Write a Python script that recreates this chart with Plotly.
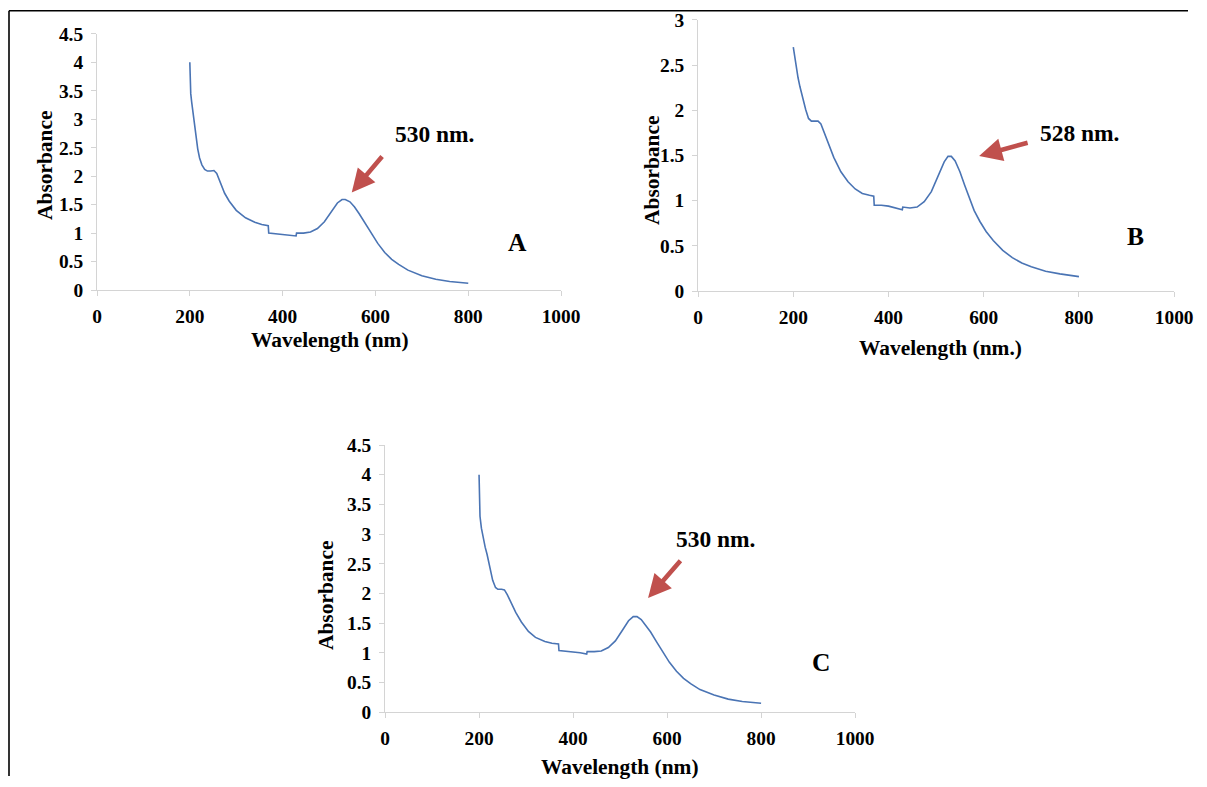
import plotly.graph_objects as go

# ---------------- data ----------------
wl_A = [200, 201, 202, 204, 207, 210, 213, 217, 221, 226, 232, 238, 245, 252, 258, 265, 275, 285,
        300, 320, 340, 355, 369, 370, 385, 400, 415, 429, 430, 445, 460, 475, 490, 505, 518, 528,
        535, 545, 555, 565, 578, 590, 605, 620, 635, 650, 670, 700, 730, 760, 800]
abs_A = [4.00, 3.60, 3.45, 3.30, 3.10, 2.85, 2.67, 2.48, 2.32, 2.20, 2.12, 2.09, 2.09, 2.10, 2.05, 1.90, 1.70, 1.56,
         1.40, 1.27, 1.19, 1.15, 1.13, 1.00, 0.99, 0.98, 0.96, 0.95, 1.00, 1.00, 1.02, 1.08, 1.20, 1.38, 1.53, 1.59,
         1.59, 1.55, 1.46, 1.34, 1.17, 1.00, 0.82, 0.66, 0.54, 0.45, 0.35, 0.25, 0.19, 0.15, 0.12]

wl_B = [200, 203, 206, 210, 214, 220, 226, 232, 238, 245, 252, 258, 265, 275, 285, 300, 315, 330,
        345, 360, 369, 370, 385, 400, 415, 429, 430, 445, 460, 475, 490, 505, 517, 525, 532, 540,
        550, 560, 570, 580, 592, 605, 620, 640, 660, 680, 700, 730, 760, 800]
abs_B = [2.70, 2.58, 2.48, 2.36, 2.26, 2.13, 2.01, 1.91, 1.88, 1.88, 1.88, 1.85, 1.75, 1.62, 1.48, 1.32, 1.21, 1.13,
         1.08, 1.06, 1.05, 0.95, 0.95, 0.94, 0.92, 0.90, 0.93, 0.92, 0.93, 0.99, 1.10, 1.28, 1.43, 1.49, 1.49, 1.44,
         1.32, 1.17, 1.02, 0.89, 0.77, 0.66, 0.56, 0.45, 0.37, 0.31, 0.27, 0.22, 0.19, 0.16]

wl_C = [200, 201, 202, 205, 209, 213, 217, 223, 229, 235, 240, 248, 254, 260, 268, 278, 290, 305,
        320, 340, 355, 369, 370, 385, 400, 415, 429, 430, 445, 460, 475, 490, 505, 518, 528, 536,
        545, 555, 565, 578, 590, 605, 620, 635, 650, 670, 700, 730, 760, 800]
abs_C = [4.00, 3.60, 3.30, 3.10, 2.90, 2.78, 2.66, 2.42, 2.22, 2.10, 2.07, 2.07, 2.06, 1.98, 1.85, 1.68, 1.52, 1.36,
         1.26, 1.19, 1.16, 1.15, 1.04, 1.03, 1.02, 1.00, 0.98, 1.02, 1.02, 1.03, 1.09, 1.20, 1.38, 1.54, 1.61, 1.61,
         1.56, 1.46, 1.35, 1.18, 1.02, 0.84, 0.69, 0.57, 0.48, 0.38, 0.29, 0.22, 0.18, 0.15]

x_ticks = [0, 200, 400, 600, 800, 1000]
y_ticks_AC = [0, 0.5, 1, 1.5, 2, 2.5, 3, 3.5, 4, 4.5]
y_ticks_B = [0, 0.5, 1, 1.5, 2, 2.5, 3]

peak_labels = ["530 nm.", "528 nm.", "530 nm."]
panel_letters = ["A", "B", "C"]
x_titles = ["Wavelength (nm)", "Wavelength (nm.)", "Wavelength (nm)"]
y_title = "Absorbance"

# ---------------- layout helpers ----------------
# positions are given in target-picture pixels; the captured page appears scaled by ~0.98
# with a small offset, so they are mapped back to figure pixels here.
W, H = 1207, 787
S, OX, OY = 0.98, 5.0, 8.0
def fx(x):
    return (x - OX) / S
def fy(y):
    return (y - OY) / S
def px(x):
    return fx(x) / W
def py(y):
    return 1 - fy(y) / H
def fs(v):
    return v / S

FONT = "Liberation Serif"
LINE = "#4a74b4"
ARROW = "#c0504d"
AXC = "#d4d4d4"

fig = go.Figure()
fig.add_trace(go.Scatter(x=wl_A, y=abs_A, mode="lines", line=dict(color=LINE, width=1.6),
                         xaxis="x", yaxis="y", showlegend=False))
fig.add_trace(go.Scatter(x=wl_B, y=abs_B, mode="lines", line=dict(color=LINE, width=1.6),
                         xaxis="x2", yaxis="y2", showlegend=False))
fig.add_trace(go.Scatter(x=wl_C, y=abs_C, mode="lines", line=dict(color=LINE, width=1.6),
                         xaxis="x3", yaxis="y3", showlegend=False))

tickfont = dict(family=FONT, size=fs(19), color="black", weight="bold")
def xax(dom, anchor):
    return dict(domain=dom, anchor=anchor, range=[0, 1000], tickvals=x_ticks, showgrid=False,
                zeroline=False, showline=True, linecolor=AXC, linewidth=1, ticks="outside",
                ticklen=5, tickcolor=AXC, tickfont=tickfont, ticklabelstandoff=4, fixedrange=True)
def yax(dom, anchor, rng, tv):
    return dict(domain=dom, anchor=anchor, range=rng, tickvals=tv, showgrid=False,
                zeroline=False, showline=True, linecolor=AXC, linewidth=1, ticks="outside",
                ticklen=5, tickcolor=AXC, tickfont=tickfont, ticklabelstandoff=4, fixedrange=True)

fig.update_layout(
    width=W, height=H, margin=dict(l=0, r=0, t=0, b=0),
    paper_bgcolor="white", plot_bgcolor="white",
    xaxis=xax([px(97), px(561)], "y"),
    yaxis=yax([py(290), py(32)], "x", [0, 4.5], y_ticks_AC),
    xaxis2=xax([px(698), px(1174)], "y2"),
    yaxis2=yax([py(291), py(18)], "x2", [0, 3], y_ticks_B),
    xaxis3=xax([px(385), px(855)], "y3"),
    yaxis3=yax([py(715), py(446)], "x3", [0, 4.5], y_ticks_AC),
)

ann = []
for (cx, cy), t in zip([(330, 340), (940, 348), (620, 770)], x_titles):
    ann.append(dict(x=px(cx), y=py(cy), xref="paper", yref="paper", text=t, showarrow=False,
                    font=dict(family=FONT, size=fs(21), color="black", weight="bold"),
                    xanchor="center", yanchor="middle"))
for (cx, cy) in [(45, 165), (652, 170), (326, 598)]:
    ann.append(dict(x=px(cx), y=py(cy), xref="paper", yref="paper", text=y_title, showarrow=False,
                    textangle=-90, font=dict(family=FONT, size=fs(21), color="black", weight="bold"),
                    xanchor="center", yanchor="middle"))
for (cx, cy), t in zip([(435, 133), (1080, 132), (716, 541)], peak_labels):
    ann.append(dict(x=px(cx), y=py(cy), xref="paper", yref="paper", text=t, showarrow=False,
                    font=dict(family=FONT, size=fs(23), color="black", weight="bold"),
                    xanchor="center", yanchor="middle"))
for (cx, cy), t in zip([(517, 242), (1135, 236), (821, 665)], panel_letters):
    ann.append(dict(x=px(cx), y=py(cy), xref="paper", yref="paper", text=t, showarrow=False,
                    font=dict(family=FONT, size=fs(25), color="black", weight="bold"),
                    xanchor="center", yanchor="middle"))
for (hx, hy), (tx, ty) in [((351.7, 191.7), (382.7, 155)), ((979, 155), (1028, 141.7)), ((648, 600), (681, 562))]:
    ann.append(dict(x=px(hx), y=py(hy), xref="paper", yref="paper", text="", showarrow=True,
                    ax=(tx - hx) / S, ay=(ty - hy) / S, arrowhead=2, arrowsize=1, arrowwidth=4.6,
                    arrowcolor=ARROW))
fig.update_layout(annotations=ann)

# outer frame (top and left edges)
fig.add_shape(type="line", xref="paper", yref="paper", x0=px(9), x1=1, y0=1 - 0.8 / H, y1=1 - 0.8 / H,
              line=dict(color="black", width=1.6))
fig.add_shape(type="line", xref="paper", yref="paper", x0=px(9), x1=px(9), y0=1 - 0.8 / H, y1=0,
              line=dict(color="black", width=1.6))

fig.write_html("out.html", config=dict(displayModeBar=False))
